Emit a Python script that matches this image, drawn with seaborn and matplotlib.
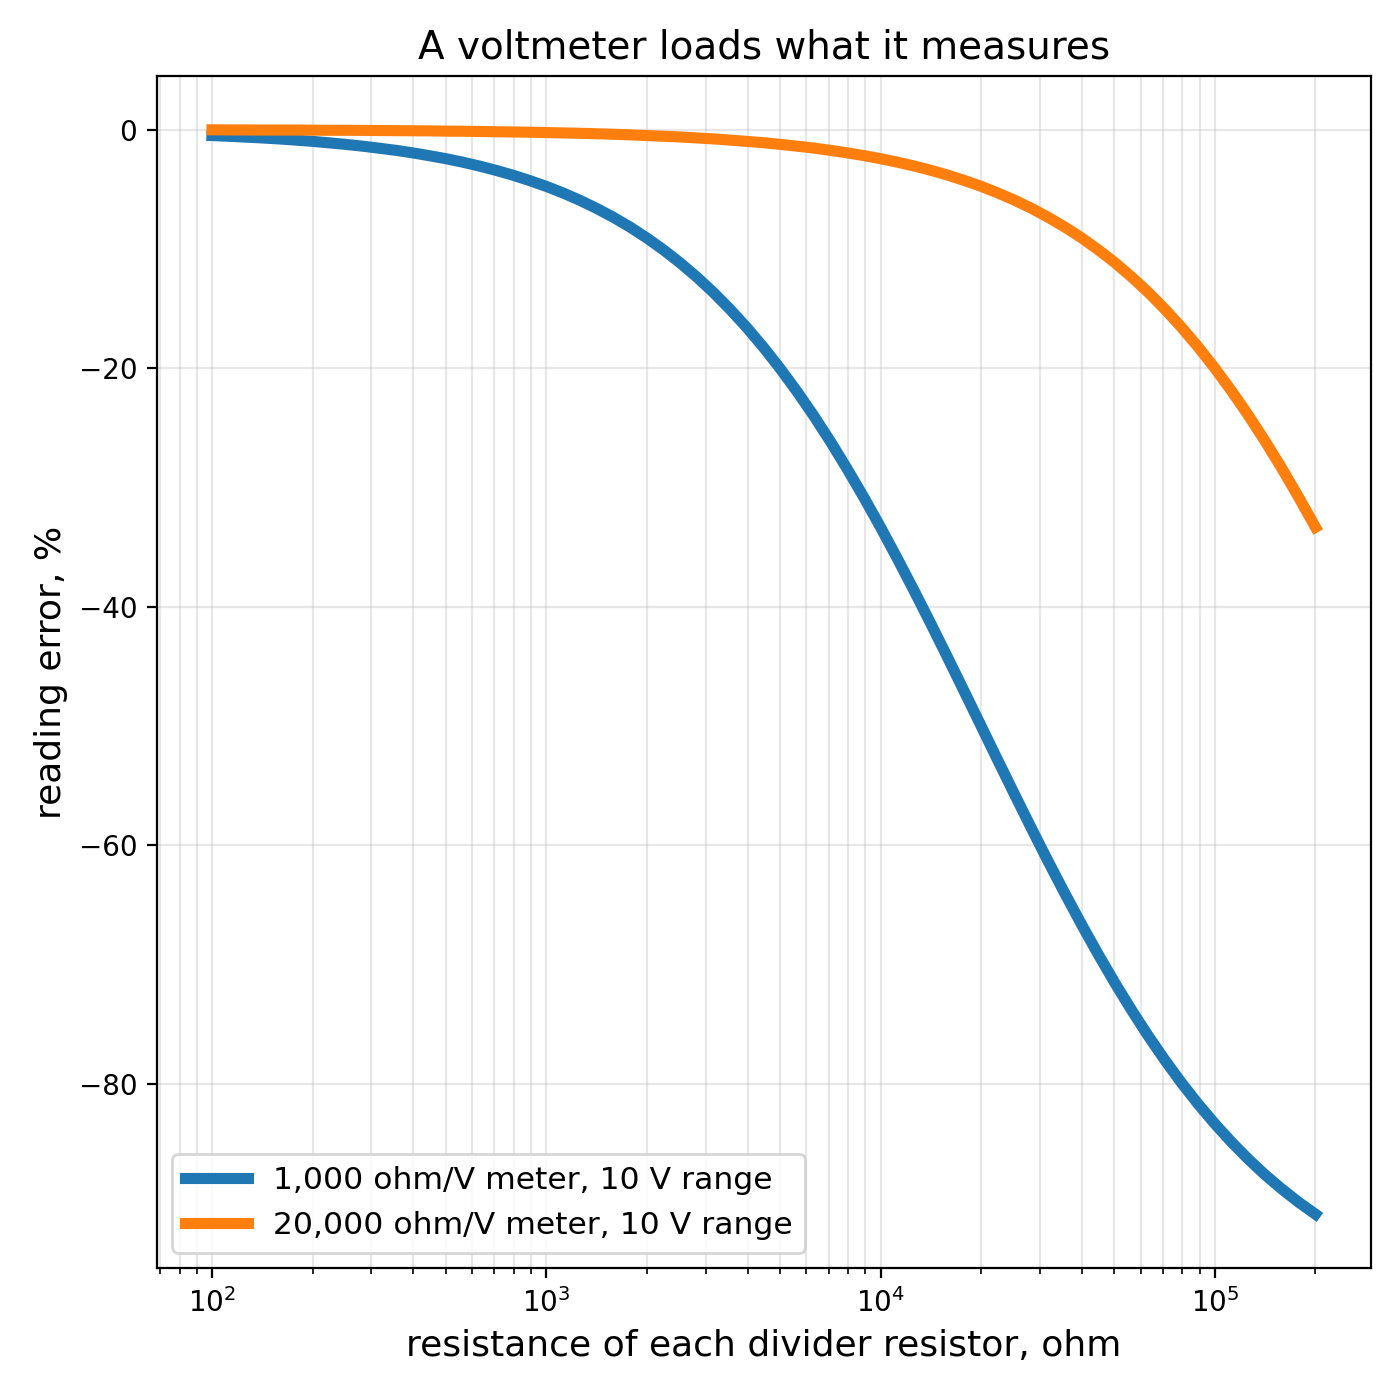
#!/usr/bin/env python3
"""Voltmeter loading error on a two-resistor divider"""

import pandas as pd
import matplotlib
matplotlib.use("Agg")
import matplotlib.pyplot as plt
import seaborn as sns

# divider resistor values, ohm (20 points per decade)
resistance = [100, 112, 126, 141, 158, 178, 200, 224, 251, 282,
              316, 355, 398, 447, 501, 562, 631, 708, 794, 891,
              1000, 1122, 1259, 1413, 1585, 1778, 1995, 2239, 2512, 2818,
              3162, 3548, 3981, 4467, 5012, 5623, 6310, 7079, 7943, 8913,
              10000, 11220, 12589, 14125, 15849, 17783, 19953, 22387, 25119, 28184,
              31623, 35481, 39811, 44668, 50119, 56234, 63096, 70795, 79433, 89125,
              100000, 112202, 125893, 141254, 158489, 177828, 200000]

# reading error, % (1,000 ohm/V meter)
err_1k = [-0.50, -0.56, -0.63, -0.70, -0.78, -0.88, -0.99, -1.11, -1.24, -1.39,
          -1.56, -1.74, -1.95, -2.19, -2.44, -2.73, -3.06, -3.42, -3.82, -4.27,
          -4.76, -5.31, -5.92, -6.60, -7.34, -8.16, -9.07, -10.07, -11.16, -12.35,
          -13.65, -15.07, -16.60, -18.26, -20.04, -21.95, -23.98, -26.14, -28.43, -30.83,
          -33.33, -35.94, -38.63, -41.39, -44.21, -47.07, -49.94, -52.82, -55.67, -58.49,
          -61.26, -63.95, -66.56, -69.07, -71.48, -73.76, -75.93, -77.97, -79.89, -81.67,
          -83.33, -84.87, -86.29, -87.60, -88.79, -89.89, -90.91]

# reading error, % (20,000 ohm/V meter)
err_20k = [-0.02, -0.03, -0.03, -0.04, -0.04, -0.04, -0.05, -0.06, -0.06, -0.07,
           -0.08, -0.09, -0.10, -0.11, -0.13, -0.14, -0.16, -0.18, -0.20, -0.22,
           -0.25, -0.28, -0.31, -0.35, -0.39, -0.44, -0.50, -0.56, -0.62, -0.70,
           -0.78, -0.88, -0.99, -1.10, -1.24, -1.39, -1.55, -1.74, -1.95, -2.18,
           -2.44, -2.73, -3.05, -3.41, -3.81, -4.26, -4.75, -5.30, -5.91, -6.58,
           -7.33, -8.15, -9.05, -10.05, -11.13, -12.33, -13.62, -15.04, -16.57, -18.22,
           -20.00, -21.91, -23.94, -26.10, -28.38, -30.78, -33.33]

labels = ["1,000 ohm/V meter, 10 V range", "20,000 ohm/V meter, 10 V range"]

df = pd.DataFrame({
    "R": resistance * 2,
    "err": err_1k + err_20k,
    "meter": [labels[0]] * len(resistance) + [labels[1]] * len(resistance),
})

fig, ax = plt.subplots(figsize=(7, 7), dpi=200)
fig.subplots_adjust(left=0.112, right=0.979, top=0.946, bottom=0.094)

sns.lineplot(data=df, x="R", y="err", hue="meter", hue_order=labels,
             palette=["#1f77b4", "#ff7f0e"], linewidth=4, ax=ax)

ax.set_xscale("log")
ax.grid(True, which="both", alpha=0.3)
ax.set_title("A voltmeter loads what it measures", fontsize=14)
ax.set_xlabel("resistance of each divider resistor, ohm", fontsize=13)
ax.set_ylabel("reading error, %", fontsize=13)
ax.legend(loc="lower left", fontsize=11.3)

plt.savefig("out.png", dpi=200)
plt.close()
